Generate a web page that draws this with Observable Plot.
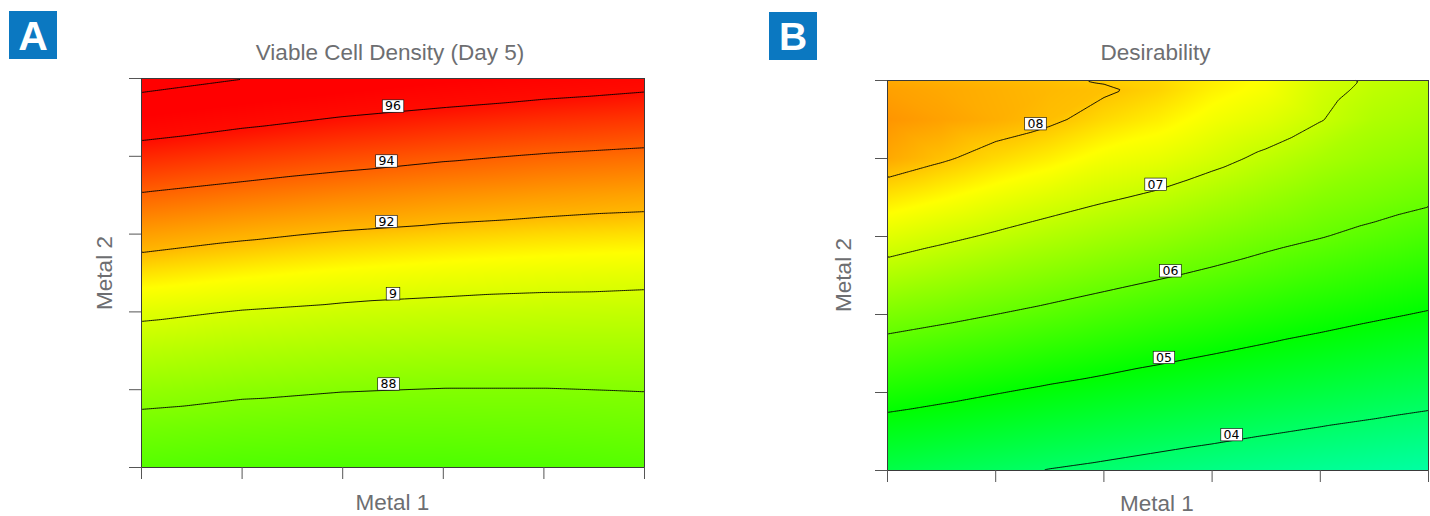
<!DOCTYPE html>
<html>
<head>
<meta charset="utf-8">
<script src="https://cdn.jsdelivr.net/npm/d3@7"></script>
<script src="https://cdn.jsdelivr.net/npm/@observablehq/plot@0.6"></script>
<style>
  body { margin: 0; background: #fff; }
  #wrap { position: relative; width: 1430px; height: 516px; overflow: hidden; background: #fff; }
  #wrap > svg { position: absolute; top: 0; }
</style>
</head>
<body>
<div id="wrap"></div>
<script>
// ---------- Panel A: Viable Cell Density (Day 5) ----------
const metal1A = [-1, -0.6, -0.2, 0.2, 0.6, 1];
const metal2A = [1, 0.8, 0.6, 0.4, 0.2, 0, -0.2, -0.4, -0.6, -0.8, -1];
const vcdGrid = [
  [9.860, 9.803, 9.755, 9.714, 9.679, 9.650],
  [9.693, 9.642, 9.597, 9.562, 9.531, 9.506],
  [9.537, 9.492, 9.452, 9.418, 9.390, 9.370],
  [9.390, 9.351, 9.317, 9.288, 9.265, 9.246],
  [9.258, 9.220, 9.189, 9.167, 9.149, 9.137],
  [9.136, 9.105, 9.079, 9.059, 9.045, 9.036],
  [9.023, 8.995, 8.976, 8.963, 8.955, 8.952],
  [8.929, 8.906, 8.890, 8.880, 8.876, 8.877],
  [8.840, 8.818, 8.804, 8.797, 8.797, 8.803],
  [8.761, 8.745, 8.736, 8.734, 8.738, 8.747],
  [8.691, 8.675, 8.669, 8.670, 8.678, 8.691]
];
const vcdLevels = [8.8, 9.0, 9.2, 9.4, 9.6, 9.8];
const vcdLabelLevels = [8.8, 9.0, 9.2, 9.4, 9.6];
const vcdLabelM1 = [-0.018, 0.0, -0.026, -0.026, 0.0];

// ---------- Panel B: Desirability ----------
const metal1B = [-1, -0.8, -0.6, -0.4, -0.2, 0, 0.2, 0.4, 0.6, 0.8, 1];
const metal2B = [1, 0.95, 0.8, 0.6, 0.4, 0.2, 0, -0.2, -0.4, -0.6, -0.8, -1];
const desGrid = [
  [0.824, 0.818, 0.812, 0.806, 0.797, 0.788, 0.768, 0.752, 0.714, 0.694, 0.682],
  [0.831, 0.8245, 0.818, 0.811, 0.805, 0.790, 0.765, 0.748, 0.712, 0.690, 0.678],
  [0.840, 0.830, 0.8195, 0.807, 0.785, 0.768, 0.745, 0.727, 0.702, 0.676, 0.664],
  [0.824, 0.805, 0.785, 0.767, 0.745, 0.733, 0.713, 0.691, 0.669, 0.652, 0.640],
  [0.775, 0.758, 0.739, 0.722, 0.706, 0.692, 0.673, 0.654, 0.635, 0.622, 0.609],
  [0.727, 0.710, 0.694, 0.678, 0.663, 0.649, 0.632, 0.616, 0.602, 0.587, 0.572],
  [0.677, 0.662, 0.647, 0.633, 0.619, 0.605, 0.591, 0.576, 0.561, 0.547, 0.534],
  [0.625, 0.613, 0.600, 0.587, 0.573, 0.559, 0.546, 0.532, 0.519, 0.507, 0.496],
  [0.575, 0.563, 0.551, 0.538, 0.526, 0.513, 0.501, 0.489, 0.478, 0.467, 0.457],
  [0.525, 0.514, 0.502, 0.490, 0.479, 0.468, 0.457, 0.447, 0.437, 0.427, 0.418],
  [0.476, 0.466, 0.455, 0.444, 0.434, 0.424, 0.414, 0.404, 0.395, 0.387, 0.379],
  [0.429, 0.418, 0.408, 0.398, 0.389, 0.379, 0.370, 0.362, 0.354, 0.347, 0.340]
];
const desLevels = [0.4, 0.5, 0.6, 0.7, 0.8];
const desLabelLevels = [0.4, 0.5, 0.6, 0.7, 0.8];
const desLabelM1 = [0.272, 0.022, 0.046, -0.009, -0.453];

const axisTicks = [-1, -0.6, -0.2, 0.2, 0.6, 1];

// ---------- helpers ----------
function tidy(xs, ys, grid) {
  const out = [];
  ys.forEach((y, i) => xs.forEach((x, j) => out.push({m1: x, m2: y, v: grid[i][j]})));
  return out;
}
// y where a level is first crossed, scanning a column upward from the bottom
function crossingY(xs, ys, grid, xq, level) {
  let j = 0;
  while (j < xs.length - 2 && xq > xs[j + 1]) j++;
  const t = (xq - xs[j]) / (xs[j + 1] - xs[j]);
  const p = grid.map(row => row[j] * (1 - t) + row[j + 1] * t);
  for (let r = ys.length - 2; r >= 0; r--) {
    const a = p[r + 1], b = p[r];
    if ((a - level) * (b - level) <= 0 && a !== b) {
      return ys[r + 1] + (level - a) / (b - a) * (ys[r] - ys[r + 1]);
    }
  }
  return ys[0];
}

function panel(o) {
  const data = tidy(o.xs, o.ys, o.grid);
  const labels = o.labelLevels.map((lv, i) => ({
    m1: o.labelM1[i],
    m2: crossingY(o.xs, o.ys, o.grid, o.labelM1[i], lv),
    text: String(lv).replace(".", "")
  }));
  const ext = {x1: -1, x2: 1, y1: -1, y2: 1};
  return Plot.plot({
    width: 715,
    height: 516,
    marginLeft: o.ml, marginRight: o.mr, marginTop: o.mt, marginBottom: o.mb,
    x: {domain: [-1, 1]},
    y: {domain: [-1, 1]},
    color: {type: "linear", domain: o.cDomain, range: o.cRange, interpolate: "rgb", clamp: true},
    style: {background: "transparent"},
    marks: [
      Plot.raster(data, {x: "m1", y: "m2", fill: "v", interpolate: "barycentric", ...ext}),
      Plot.contour(data, {x: "m1", y: "m2", value: "v", interpolate: "barycentric", thresholds: o.levels,
        stroke: "#000", strokeWidth: 0.9, fill: "none", ...ext}),
      Plot.frame({stroke: "#3a3a3a", strokeWidth: 1}),
      Plot.axisX({ticks: axisTicks, tickSize: 12, tickFormat: () => "", label: null, stroke: "#555"}),
      Plot.axisY({ticks: axisTicks, tickSize: 12, tickFormat: () => "", label: null, stroke: "#555"}),
      Plot.text(labels, {x: "m1", y: "m2", text: "text", lineAnchor: "bottom", dy: -1.8,
        textAnchor: "middle", fontFamily: "DejaVu Sans", fontSize: 12.5, fill: "#000"})
    ]
  });
}

const wrap = document.getElementById("wrap");

const plotA = panel({
  xs: metal1A, ys: metal2A, grid: vcdGrid, levels: vcdLevels,
  labelLevels: vcdLabelLevels, labelM1: vcdLabelM1,
  ml: 141, mr: 71, mt: 78, mb: 49,
  cDomain: [8.49, 9.09, 9.2, 9.4, 9.6, 9.7],
  cRange: ["#00ff00", "#ffff00", "#ffb800", "#ff6000", "#ff0c00", "#ff0000"]
});
plotA.style.left = "0px";
wrap.appendChild(plotA);

const plotB = panel({
  xs: metal1B, ys: metal2B, grid: desGrid, levels: desLevels,
  labelLevels: desLabelLevels, labelM1: desLabelM1,
  ml: 172, mr: 2, mt: 80, mb: 46,
  cDomain: [0.25, 0.5, 0.755, 0.96],
  cRange: ["#00ffff", "#00ff00", "#ffff00", "#ff0000"]
});
plotB.style.left = "715px";
wrap.appendChild(plotB);

// white label boxes behind contour labels
[plotA, plotB].forEach(svg => {
  d3.select(svg).selectAll('g[aria-label="text"] text').each(function () {
    const b = this.getBBox();
    const r = document.createElementNS("http://www.w3.org/2000/svg", "rect");
    r.setAttribute("x", b.x - 2.8);
    r.setAttribute("width", b.width + 5.6);
    r.setAttribute("y", 1.8 - 12.4);
    r.setAttribute("height", 12.4);
    const tr = this.getAttribute("transform");
    if (tr) r.setAttribute("transform", tr);
    r.setAttribute("fill", "#fff");
    r.setAttribute("stroke", "#000");
    r.setAttribute("stroke-width", 0.6);
    this.parentNode.insertBefore(r, this);
  });
});

// titles, axis names and panel badges
const overlay = d3.create("svg")
  .attr("width", 1430).attr("height", 516)
  .style("left", "0px").style("pointer-events", "none");
const font = "'Liberation Sans', Arial, Helvetica, sans-serif";
const grey = "#6d6e71";

const badges = [
  {x: 9, y: 11, letter: "A", size: 41},
  {x: 769, y: 12, letter: "B", size: 39}
];
badges.forEach(b => {
  overlay.append("rect").attr("x", b.x).attr("y", b.y).attr("width", 48).attr("height", 48).attr("fill", "#0b78c1");
  overlay.append("text").attr("x", b.x + 24).attr("y", 49.5).attr("text-anchor", "middle")
    .attr("font-family", font).attr("font-weight", "bold").attr("font-size", b.size)
    .attr("fill", "#fff").text(b.letter);
});

const texts = [
  {x: 390, y: 59.5, t: "Viable Cell Density (Day 5)", rot: false},
  {x: 1155.5, y: 59.5, t: "Desirability", rot: false},
  {x: 392.5, y: 510, t: "Metal 1", rot: false},
  {x: 1157, y: 510.5, t: "Metal 1", rot: false},
  {x: 111.5, y: 273, t: "Metal 2", rot: true},
  {x: 851, y: 275, t: "Metal 2", rot: true}
];
texts.forEach(d => {
  const el = overlay.append("text")
    .attr("text-anchor", "middle")
    .attr("font-family", font).attr("font-size", 22.5).attr("fill", grey)
    .text(d.t);
  if (d.rot) el.attr("transform", `translate(${d.x},${d.y}) rotate(-90)`);
  else el.attr("x", d.x).attr("y", d.y);
});
wrap.appendChild(overlay.node());
</script>
</body>
</html>
